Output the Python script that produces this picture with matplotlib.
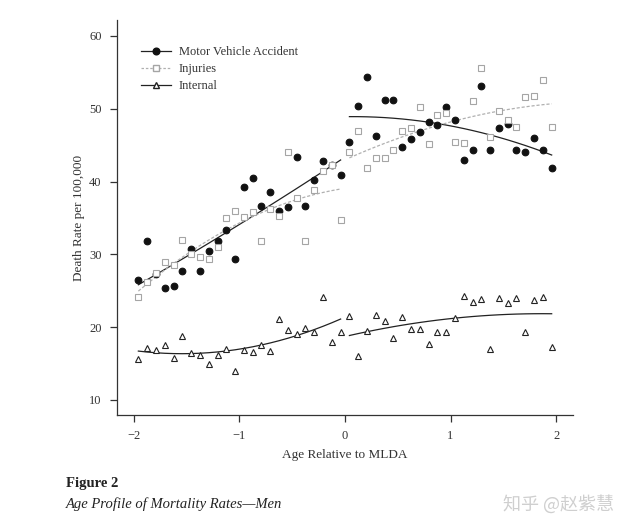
import matplotlib.pyplot as plt
from matplotlib.lines import Line2D
import numpy as np

# Monthly bins, two years either side of the minimum legal drinking age
age = -2 + (np.arange(48) + 0.5) / 12

motor_vehicle = [26.5, 31.9, 27.3, 25.4, 25.6, 27.7, 30.8, 27.7, 30.4, 31.8, 33.3, 29.3,
                 39.2, 40.5, 36.7, 38.5, 35.9, 36.5, 43.4, 36.6, 40.2, 42.8, 42.3, 40.9,
                 45.4, 50.4, 54.3, 46.3, 51.2, 51.2, 44.8, 45.9, 46.8, 48.2, 47.8, 50.3,
                 48.5, 42.9, 44.3, 53.1, 44.4, 47.4, 47.9, 44.3, 44.1, 46.0, 44.4, 41.8]

injuries = [24.1, 26.2, 27.4, 28.9, 28.5, 32.0, 30.0, 29.6, 29.4, 31.0, 35.0, 35.9,
            35.1, 35.8, 31.8, 36.3, 35.3, 44.0, 37.7, 31.9, 38.8, 41.5, 42.3, 34.7,
            44.1, 46.9, 41.8, 43.3, 43.3, 44.4, 46.9, 47.4, 50.2, 45.1, 49.1, 49.4,
            45.5, 45.3, 51.1, 55.6, 46.1, 49.7, 48.5, 47.5, 51.6, 51.7, 53.9, 47.5]

internal = [15.6, 17.1, 16.8, 17.5, 15.7, 18.8, 16.5, 16.2, 14.9, 16.2, 17.0, 14.0,
            16.9, 16.6, 17.5, 16.7, 21.1, 19.6, 19.0, 19.9, 19.3, 24.1, 18.0, 19.4,
            21.5, 16.1, 19.5, 21.7, 20.9, 18.5, 21.4, 19.7, 19.7, 17.7, 19.3, 19.3,
            21.3, 24.3, 23.5, 23.9, 17.0, 24.0, 23.3, 24.0, 19.3, 23.7, 24.1, 17.3]

x_ticks = [-2, -1, 0, 1, 2]
y_ticks = [10, 20, 30, 40, 50, 60]

plt.rcParams['font.family'] = ['Liberation Serif', 'DejaVu Serif']

fig = plt.figure(figsize=(6.41, 5.32), dpi=100)
ax = fig.add_axes([0.1825, 0.22, 0.7115, 0.7425])

below = age < 0
above = age > 0


def fit_curve(x, y, deg=2):
    """Quadratic fit on one side of the cutoff"""
    coef = np.polyfit(x, y, deg)
    return np.polyval(coef, x)


series = [
    (np.array(motor_vehicle), dict(marker='o', ms=4.8, mfc='#111111', mec='#111111', mew=0.8),
     dict(color='#222222', lw=0.9, ls='-')),
    (np.array(injuries), dict(marker='s', ms=4.5, mfc='white', mec='#a5a5a5', mew=0.8),
     dict(color='#b0b0b0', lw=0.9, ls=(0, (2.5, 1.5)))),
    (np.array(internal), dict(marker='^', ms=5, mfc='white', mec='#222222', mew=0.8),
     dict(color='#222222', lw=0.9, ls='-')),
]

for vals, mstyle, lstyle in series:
    ax.plot(age, vals, ls='none', zorder=3, **mstyle)
    for side in (below, above):
        ax.plot(age[side], fit_curve(age[side], vals[side]), zorder=2, **lstyle)

ax.set_xlim(-2.161, 2.161)
ax.set_ylim(7.94, 62.2)
ax.set_xticks(x_ticks)
ax.set_xticklabels(['\u22122', '\u22121', '0', '1', '2'])
ax.set_yticks(y_ticks)
for side in ('top', 'right'):
    ax.spines[side].set_visible(False)
for side in ('left', 'bottom'):
    ax.spines[side].set_linewidth(0.9)
    ax.spines[side].set_color('#333333')
ax.tick_params(direction='out', length=5, width=0.9, color='#333333',
               labelsize=9, labelcolor='#333333', pad=6)

ax.set_xlabel('Age Relative to MLDA', fontsize=9.5, color='#333333', labelpad=5)
ax.set_ylabel('Death Rate per 100,000', fontsize=9.5, color='#333333', labelpad=3)

handles = [
    Line2D([], [], color='#222222', lw=0.9, marker='o', ms=4.8, mfc='#111111', mec='#111111'),
    Line2D([], [], color='#b0b0b0', lw=0.9, ls=(0, (2, 1.5)), marker='s', ms=4.5,
           mfc='white', mec='#a5a5a5'),
    Line2D([], [], color='#222222', lw=0.9, marker='^', ms=5, mfc='white', mec='#222222'),
]
ax.legend(handles, ['Motor Vehicle Accident', 'Injuries', 'Internal'],
          loc='upper left', bbox_to_anchor=(0.04, 0.95), frameon=False,
          fontsize=9, handlelength=2.4, handletextpad=0.6, labelspacing=0.4,
          borderpad=0, labelcolor='#333333')

fig.text(0.103, 0.085, 'Figure 2', fontsize=10.5, fontweight='bold', color='#222222')
fig.text(0.103, 0.045, 'Age Profile of Mortality Rates\u2014Men', fontsize=10.5,
         style='italic', color='#222222')
fig.text(0.785, 0.042, '知乎 @赵紫慧', fontsize=13, color='#cfcfcf',
         family=['Noto Sans CJK SC', 'DejaVu Sans'])

fig.savefig('out.png', dpi=100, facecolor='white')
